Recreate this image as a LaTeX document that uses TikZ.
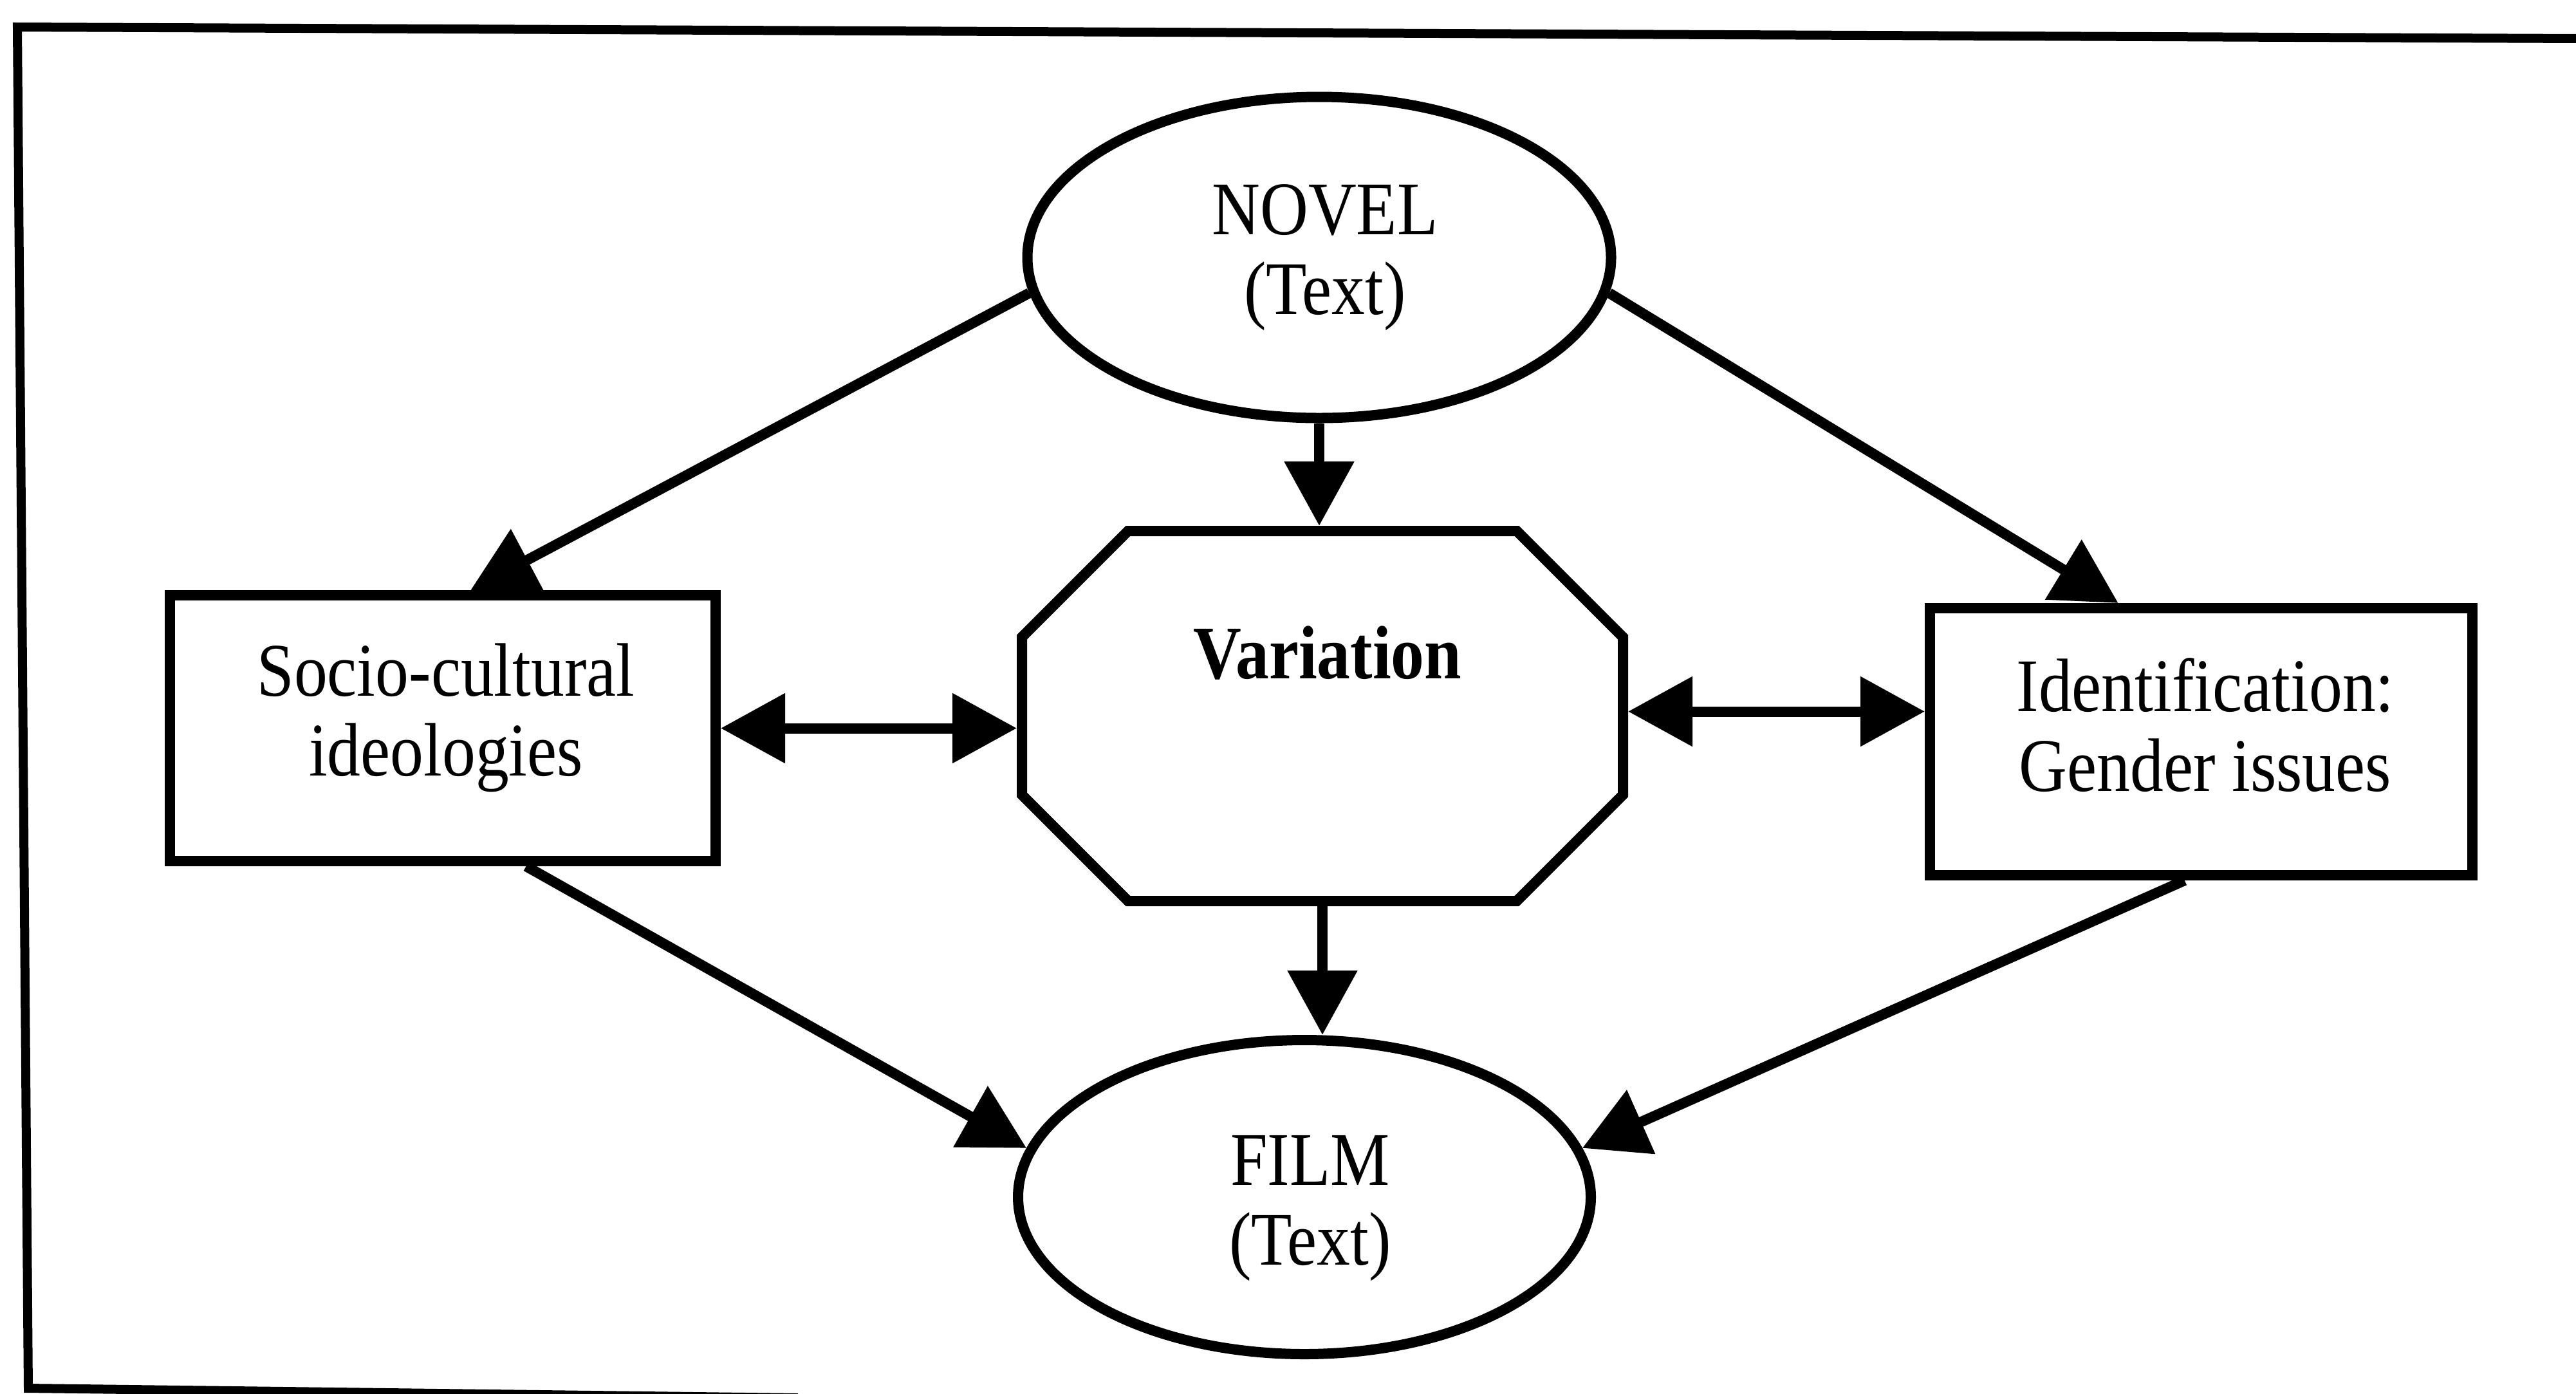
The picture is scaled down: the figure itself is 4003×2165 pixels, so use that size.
\documentclass[tikz,border=0pt]{standalone}
\usepackage{fontspec}
\setmainfont{Liberation Serif}[FakeStretch=0.88]
\usetikzlibrary{arrows.meta,shapes.geometric,calc}
\begin{document}
\begin{tikzpicture}[x=0.1mm,y=-0.1mm,
  lw/.style={line width=1.6mm},
  box/.style={draw, lw, rectangle, inner sep=0pt, outer sep=0.8mm},
  oval/.style={draw, lw, ellipse, inner sep=0pt, outer sep=0.8mm},
  txt/.style={align=center, font=\fontsize{33.5pt}{35.3pt}\selectfont, inner sep=0pt},
  conn/.style={lw, -{Triangle[length=10mm,width=10.5mm]}},
  dconn/.style={lw, {Triangle[length=10mm,width=10.5mm]}-{Triangle[length=10mm,width=10.5mm]}}]

\useasboundingbox (0,0) rectangle (4003,2165);

% outer frame (partly cut off)
\draw[line width=1.4mm, line join=miter] (4010,60) -- (27,42) -- (44,2157) -- (1240,2172);

% nodes
\node[oval, minimum width=90.7mm, minimum height=49.9mm] (novel) at (2050,400) {};
\node[oval, minimum width=89.0mm, minimum height=48.8mm] (film) at (2027,1860) {};
\node[box, minimum width=84.8mm, minimum height=41.3mm] (soc) at (688,1131.5) {};
\node[box, minimum width=84.3mm, minimum height=41.5mm] (ident) at (3420.5,1152.5) {};
\node[rectangle, inner sep=0pt, outer sep=0.8mm, minimum width=93.4mm, minimum height=57.5mm] (var) at (2055,1112.5) {};
\draw[lw, line join=miter]
  ([shift={(-30.2mm,28.75mm)}]var.center) -- ([shift={(30.2mm,28.75mm)}]var.center)
  -- ([shift={(46.7mm,12.25mm)}]var.center) -- ([shift={(46.7mm,-12.25mm)}]var.center)
  -- ([shift={(30.2mm,-28.75mm)}]var.center) -- ([shift={(-30.2mm,-28.75mm)}]var.center)
  -- ([shift={(-46.7mm,-12.25mm)}]var.center) -- ([shift={(-46.7mm,12.25mm)}]var.center)
  -- cycle;

% texts
\node[txt] (novelt) at (2059,400) {NOVEL\\(Text)};
\node[txt] (filmt) at (2036,1877) {FILM\\(Text)};
\node[txt] (soct) at (693,1115) {Socio-cultural\\ideologies};
\node[txt] (identt) at (3427,1127) {Identification:\\Gender issues};
\node[txt] (vart) at (2063,1015) {\bfseries Variation};

% connectors
\draw[conn] (novel.south) -- (novel.south |- var.north);
\draw[conn] (var.south) -- (var.south |- film.north);
\draw[dconn] (soc.east) -- (soc.east -| var.west);
\draw[dconn] ([yshift=0.7mm]var.east) -- ([yshift=0.7mm]var.east -| ident.west);
\draw[conn] (novel.187) -- ($(soc.north west)!0.55!(soc.north east)$);
\draw[conn] (novel.353) -- ($(ident.north west)!0.35!(ident.north east)$);
\draw[conn] ($(soc.south west)!0.65!(soc.south east)$) -- (film.170);
\draw[conn] ($(ident.south west)!0.47!(ident.south east)$) -- (film.10);
\end{tikzpicture}
\end{document}
